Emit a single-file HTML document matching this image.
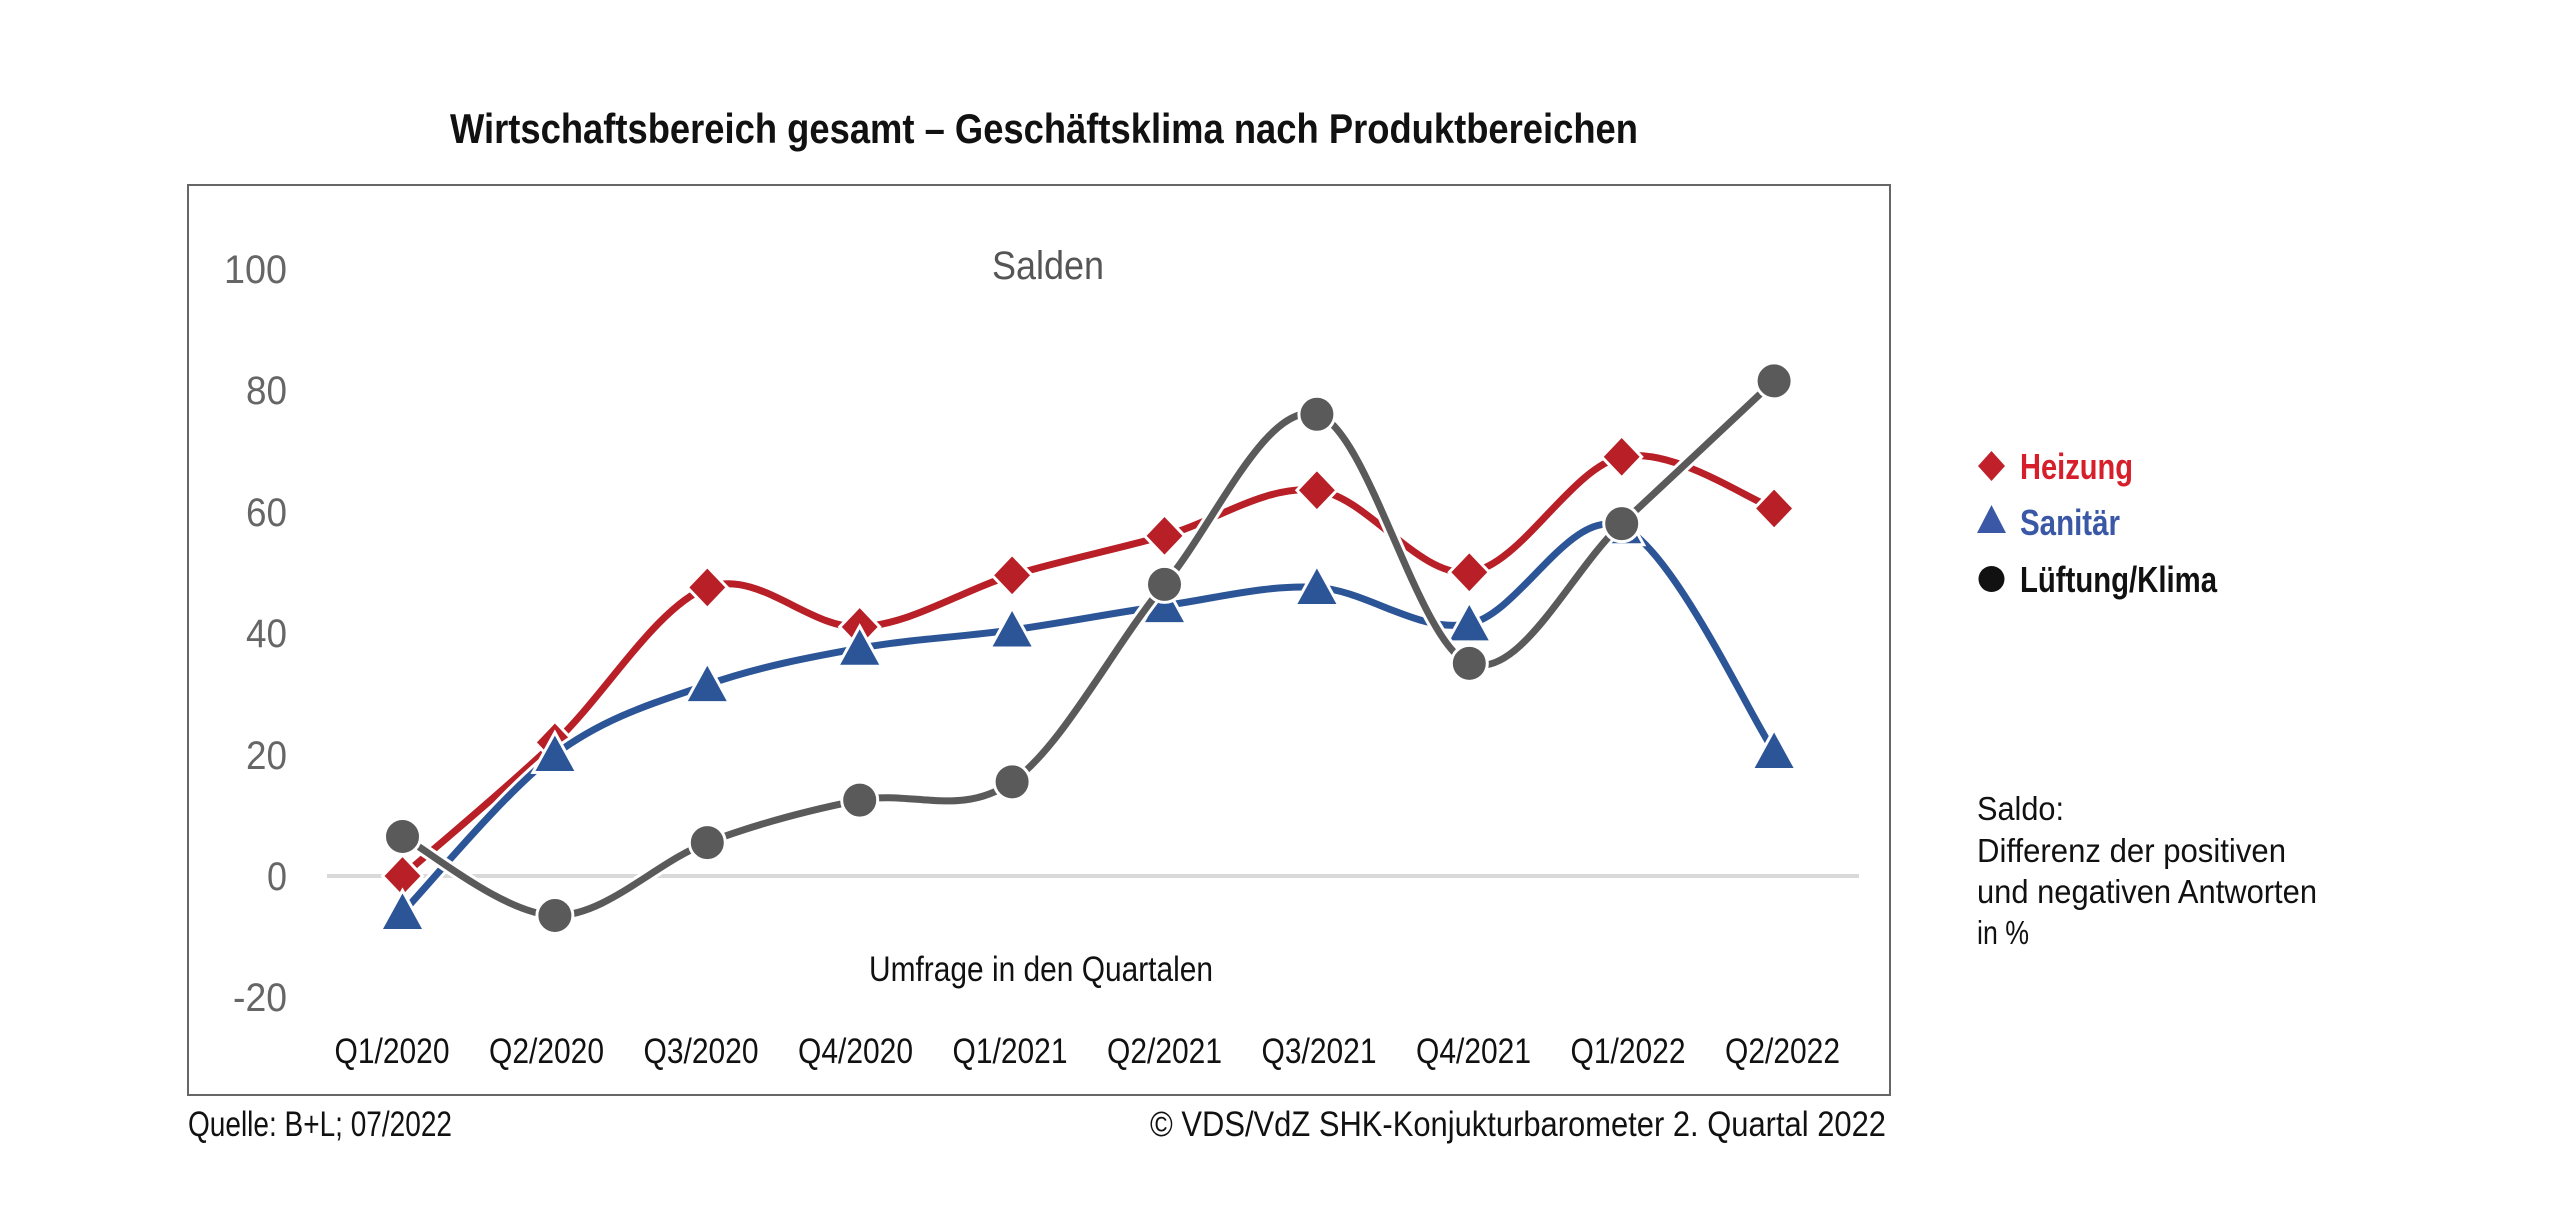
<!DOCTYPE html>
<html><head><meta charset="utf-8"><style>
html,body{margin:0;padding:0;background:#fff;}
svg{display:block;}
text{font-family:"Liberation Sans Narrow","Liberation Sans",sans-serif;}
</style></head><body>
<svg id="s" width="2560" height="1207" viewBox="0 0 2560 1207" xmlns="http://www.w3.org/2000/svg">
<rect width="2560" height="1207" fill="#fff"/>
<text x="450" y="143" font-size="42" font-weight="bold" fill="#111" textLength="1188" lengthAdjust="spacingAndGlyphs">Wirtschaftsbereich gesamt – Geschäftsklima nach Produktbereichen</text>
<rect x="188" y="185" width="1702" height="910" fill="none" stroke="#666" stroke-width="2"/>
<text x="992" y="279" font-size="40" fill="#555" textLength="112" lengthAdjust="spacingAndGlyphs">Salden</text>
<g font-size="40" fill="#666" text-anchor="end">
<text x="287" y="283" textLength="63" lengthAdjust="spacingAndGlyphs">100</text>
<text x="287" y="404" textLength="41" lengthAdjust="spacingAndGlyphs">80</text>
<text x="287" y="526" textLength="41" lengthAdjust="spacingAndGlyphs">60</text>
<text x="287" y="647" textLength="41" lengthAdjust="spacingAndGlyphs">40</text>
<text x="287" y="769" textLength="41" lengthAdjust="spacingAndGlyphs">20</text>
<text x="287" y="890" textLength="20" lengthAdjust="spacingAndGlyphs">0</text>
<text x="287" y="1011" textLength="54" lengthAdjust="spacingAndGlyphs">-20</text>
</g>
<line x1="327" y1="876" x2="1859" y2="876" stroke="#d9d9d9" stroke-width="4"/>
<g id="series"></g>
<g font-size="35" fill="#111" text-anchor="middle" id="cats"></g>
<text x="869" y="981" font-size="35" fill="#111" textLength="344" lengthAdjust="spacingAndGlyphs">Umfrage in den Quartalen</text>
<text x="188" y="1136" font-size="35" fill="#111" textLength="264" lengthAdjust="spacingAndGlyphs">Quelle: B+L; 07/2022</text>
<text x="1150" y="1136" font-size="35" fill="#111" textLength="736" lengthAdjust="spacingAndGlyphs">© VDS/VdZ SHK-Konjukturbarometer 2. Quartal 2022</text>
<path d="M1991.5 451 L2005 466 L1991.5 481 L1978 466 Z" fill="#c0202a"/>
<text x="2020" y="479" font-size="36" font-weight="bold" fill="#d71f2b" textLength="113" lengthAdjust="spacingAndGlyphs">Heizung</text>
<path d="M1991.5 505 L2006 533 L1977 533 Z" fill="#3a58a6"/>
<text x="2020" y="535" font-size="36" font-weight="bold" fill="#3a58a6" textLength="100" lengthAdjust="spacingAndGlyphs">Sanitär</text>
<circle cx="1991.5" cy="579" r="13" fill="#111"/>
<text x="2020" y="592" font-size="36" font-weight="bold" fill="#111" textLength="197" lengthAdjust="spacingAndGlyphs">Lüftung/Klima</text>
<g font-size="33" fill="#111">
<text x="1977" y="820" textLength="87" lengthAdjust="spacingAndGlyphs">Saldo:</text>
<text x="1977" y="862" textLength="309" lengthAdjust="spacingAndGlyphs">Differenz der positiven</text>
<text x="1977" y="903" textLength="340" lengthAdjust="spacingAndGlyphs">und negativen Antworten</text>
<text x="1977" y="944" textLength="52" lengthAdjust="spacingAndGlyphs">in %</text>
</g>
</svg>
<script>
var NS="http://www.w3.org/2000/svg";
function X(i){return 402.5+i*152.4;}
function Y(v){return 876-v*6.075;}
var data=[
 {c:"#b81f27",m:"d",v:[0,22,47.5,41,49.5,56,63.5,50,69,60.5]},
 {c:"#2c5598",m:"t",v:[-6,20,31.5,37.5,40.5,44.5,47.5,41.5,57.5,20.5]},
 {c:"#5a5a5a",m:"c",v:[6.5,-6.5,5.5,12.5,15.5,48,76,35,58,81.5]}
];
var g=document.getElementById("series");
function el(n,a){var e=document.createElementNS(NS,n);for(var k in a)e.setAttribute(k,a[k]);return e;}
data.forEach(function(s){
 var p=s.v.map(function(v,i){return [X(i),Y(v)];});
 var d="M"+p[0][0]+" "+p[0][1];
 for(var i=0;i<p.length-1;i++){
  var p0=p[i-1]||p[i],p1=p[i],p2=p[i+1],p3=p[i+2]||p[i+1];
  var c1=[p1[0]+(p2[0]-p0[0])/6,p1[1]+(p2[1]-p0[1])/6];
  var c2=[p2[0]-(p3[0]-p1[0])/6,p2[1]-(p3[1]-p1[1])/6];
  d+=" C"+c1[0]+" "+c1[1]+" "+c2[0]+" "+c2[1]+" "+p2[0]+" "+p2[1];
 }
 g.appendChild(el("path",{d:d,fill:"none",stroke:"#fff","stroke-width":13,"stroke-linejoin":"round"}));
 g.appendChild(el("path",{d:d,fill:"none",stroke:s.c,"stroke-width":7,"stroke-linejoin":"round"}));
 p.forEach(function(q){
  var x=q[0],y=q[1],m;
  if(s.m=="d")m=el("path",{d:"M"+x+" "+(y-21)+" L"+(x+20)+" "+y+" L"+x+" "+(y+21)+" L"+(x-20)+" "+y+" Z"});
  else if(s.m=="t")m=el("path",{d:"M"+x+" "+(y-22)+" L"+(x+22)+" "+(y+18)+" L"+(x-22)+" "+(y+18)+" Z"});
  else m=el("circle",{cx:x,cy:y,r:18});
  m.setAttribute("fill",s.c);m.setAttribute("stroke","#fff");m.setAttribute("stroke-width","3");
  g.appendChild(m);
 });
});
var cats=["Q1/2020","Q2/2020","Q3/2020","Q4/2020","Q1/2021","Q2/2021","Q3/2021","Q4/2021","Q1/2022","Q2/2022"];
var cg=document.getElementById("cats");
cats.forEach(function(c,i){var t=el("text",{x:392+i*154.5,y:1063,textLength:115,lengthAdjust:"spacingAndGlyphs"});t.textContent=c;cg.appendChild(t);});
</script>
</body></html>
